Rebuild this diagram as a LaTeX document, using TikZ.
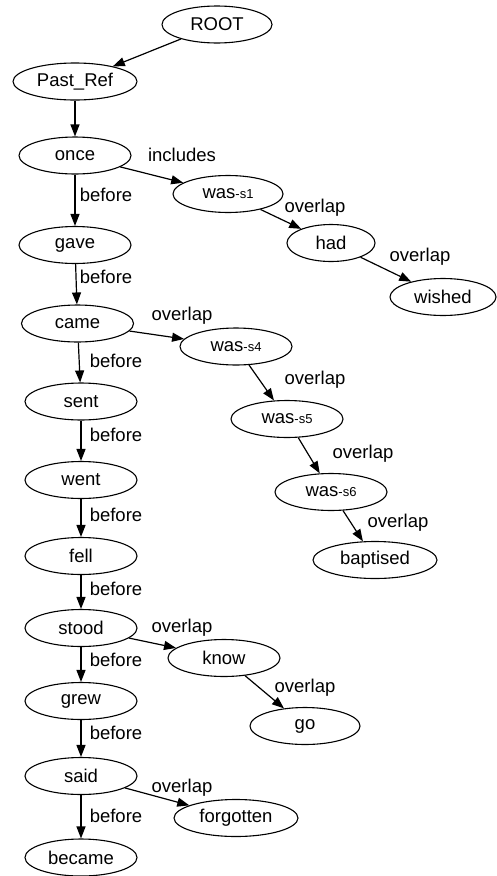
\documentclass[tikz,border=0pt]{standalone}
\usepackage{fontspec}
\setmainfont{Liberation Sans}
\usetikzlibrary{shapes.geometric,arrows.meta}
\tikzset{
  nd/.style={ellipse,draw,line width=1.1pt,inner sep=0pt,minimum height=37pt,minimum width=112pt,font=\fontsize{18.5}{22}\selectfont},
  edge/.style={line width=1.2pt,-{Triangle[length=12pt,width=9pt]}},
  lbl/.style={font=\fontsize{18.5}{22}\selectfont,inner sep=0pt,anchor=center},
}
\newcommand{\sm}[1]{{\fontsize{13}{15}\selectfont #1}}
\begin{document}
\begin{tikzpicture}[x=1pt,y=-1pt]
\useasboundingbox (0,0) rectangle (497,876);
% nodes
\node[nd,minimum width=110pt] (root) at (217,24.5) {ROOT};
\node[nd,minimum width=124pt] (past) at (75,81.5) {Past\_Ref};
\node[nd] (once) at (75,155.5) {once};
\node[nd,minimum width=110pt] (was1) at (228,194) {was\sm{-s1}};
\node[nd,minimum width=88pt] (had) at (331,243) {had};
\node[nd,minimum width=106pt] (wished) at (443,297) {wished};
\node[nd] (gave) at (75,245) {gave};
\node[nd] (came) at (77.5,323.5) {came};
\node[nd] (was4) at (236,346.5) {was\sm{-s4}};
\node[nd] (was5) at (287,419) {was\sm{-s5}};
\node[nd] (was6) at (331,492) {was\sm{-s6}};
\node[nd,minimum width=124pt] (bapt) at (375,560) {baptised};
\node[nd] (sent) at (81,401.5) {sent};
\node[nd] (went) at (81,480) {went};
\node[nd] (fell) at (81,556) {fell};
\node[nd] (stood) at (81,628) {stood};
\node[nd] (know) at (224,658) {know};
\node[nd] (grew) at (81,701) {grew};
\node[nd,minimum width=110pt] (go) at (305,726) {go};
\node[nd] (said) at (81,776) {said};
\node[nd,minimum width=124pt] (forg) at (236,818) {forgotten};
\node[nd] (became) at (81,857.5) {became};
% edges
\draw[edge] (root) -- (past);
\draw[edge] (past) -- (once);
\draw[edge] (once) -- (was1) node[lbl] (l1) at (182,155) {includes};
\draw[edge] (once) -- (gave) node[lbl] (l2) at (106,195) {before};
\draw[edge] (was1) -- (had) node[lbl] (l3) at (315,208) {overlap};
\draw[edge] (gave) -- (came) node[lbl] (l4) at (106,277) {before};
\draw[edge] (had) -- (wished) node[lbl] (l5) at (420,257) {overlap};
\draw[edge] (came) -- (was4) node[lbl] (l6) at (182,316) {overlap};
\draw[edge] (came) -- (sent) node[lbl] (l7) at (116,361) {before};
\draw[edge] (was4) -- (was5) node[lbl] (l8) at (315,380) {overlap};
\draw[edge] (sent) -- (went) node[lbl] (l9) at (116,435) {before};
\draw[edge] (was5) -- (was6) node[lbl] (l10) at (363,454) {overlap};
\draw[edge] (went) -- (fell) node[lbl] (l11) at (116,515) {before};
\draw[edge] (was6) -- (bapt) node[lbl] (l12) at (398,523) {overlap};
\draw[edge] (fell) -- (stood) node[lbl] (l13) at (116,589) {before};
\draw[edge] (stood) -- (know) node[lbl] (l14) at (182,628) {overlap};
\draw[edge] (stood) -- (grew) node[lbl] (l15) at (116,660) {before};
\draw[edge] (know) -- (go) node[lbl] (l16) at (305,688) {overlap};
\draw[edge] (grew) -- (said) node[lbl] (l17) at (116,733) {before};
\draw[edge] (said) -- (forg) node[lbl] (l18) at (182,788) {overlap};
\draw[edge] (said) -- (became) node[lbl] (l19) at (116,816) {before};
\end{tikzpicture}
\end{document}
